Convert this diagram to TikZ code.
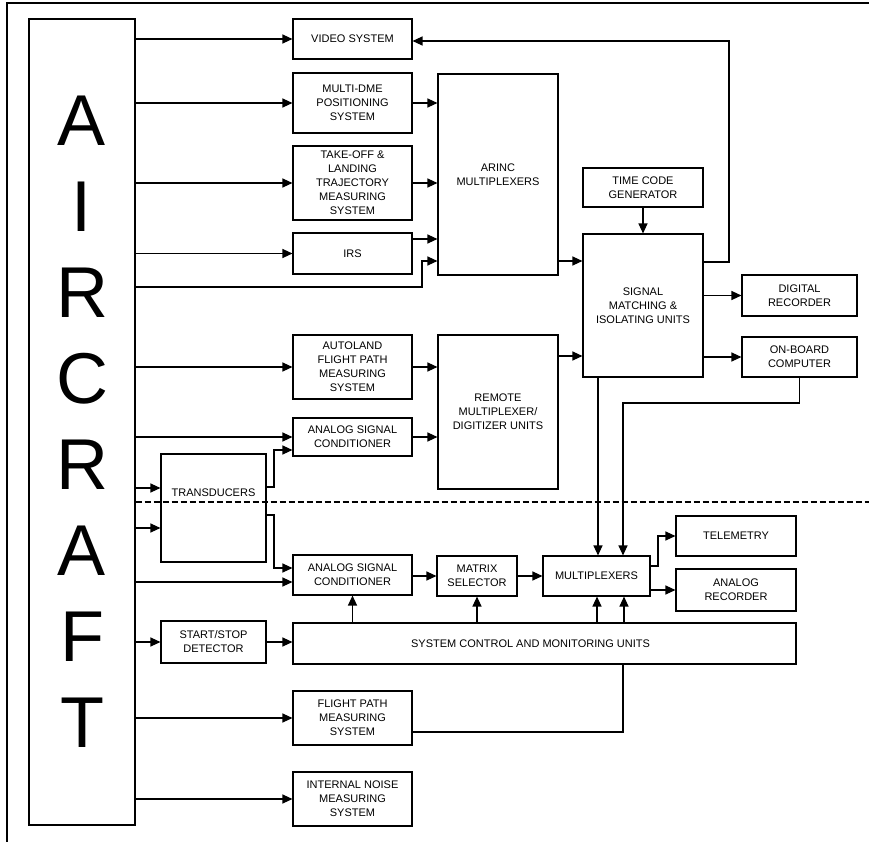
\documentclass[tikz,border=0pt]{standalone}
\usepackage{fontspec}
\setmainfont{Liberation Sans}
\usetikzlibrary{arrows.meta}
\begin{document}
\begin{tikzpicture}[x=1pt,y=-1pt,
  box/.style={draw, line width=1.1pt, inner sep=1pt, align=center, font=\fontsize{11}{14}\selectfont},
  arr/.style={line width=1.2pt, -{Triangle[length=10pt,width=9pt]}},
  ln/.style={line width=1.2pt},
  sep/.style={line width=1.1pt, dash pattern=on 6pt off 3pt}]
\useasboundingbox (0,0) rectangle (869,842);
% frame
\draw[ln] (7,842) -- (7,3) -- (869,3);
% aircraft
\node[draw, line width=1.1pt, minimum width=106pt, minimum height=806pt, align=center, inner sep=0pt,
  font=\fontsize{72}{86}\selectfont] (air) at (82,422) {A\\I\\R\\C\\R\\A\\F\\T};
% column 2
\node[box, minimum width=119pt, minimum height=40pt] (video) at (352.5,39) {VIDEO SYSTEM};
\node[box, minimum width=119pt, minimum height=60pt] (dme) at (352.5,103) {MULTI-DME\\POSITIONING\\SYSTEM};
\node[box, minimum width=119pt, minimum height=74pt] (tko) at (352.5,183) {TAKE-OFF \&\\LANDING\\TRAJECTORY\\MEASURING\\SYSTEM};
\node[box, minimum width=119pt, minimum height=41pt] (irs) at (352.5,253.5) {IRS};
\node[box, minimum width=119pt, minimum height=64pt] (auto) at (352.5,367) {AUTOLAND\\FLIGHT PATH\\MEASURING\\SYSTEM};
\node[box, minimum width=119pt, minimum height=38pt] (asca) at (352.5,437) {ANALOG SIGNAL\\CONDITIONER};
\node[box, minimum width=119pt, minimum height=40pt] (ascb) at (352.5,575) {ANALOG SIGNAL\\CONDITIONER};
\node[box, minimum width=119pt, minimum height=54pt] (fpms) at (352.5,718) {FLIGHT PATH\\MEASURING\\SYSTEM};
\node[box, minimum width=119pt, minimum height=54pt] (inm) at (352.5,799) {INTERNAL NOISE\\MEASURING\\SYSTEM};
% transducers, start/stop
\node[box, minimum width=105pt, minimum height=108pt,
  label={[anchor=center, yshift=-39pt, font=\fontsize{11}{14}\selectfont]north:TRANSDUCERS}] (trans) at (213.5,508) {};
\node[box, minimum width=105pt, minimum height=42pt] (ss) at (213.5,642) {START/STOP\\DETECTOR};
% column 3
\node[box, minimum width=120pt, minimum height=201pt] (arinc) at (498,174.5) {ARINC\\MULTIPLEXERS};
\node[box, minimum width=120pt, minimum height=154pt] (rmd) at (498,412) {REMOTE\\MULTIPLEXER/\\DIGITIZER UNITS};
\node[box, minimum width=80pt, minimum height=40pt] (mat) at (477,576) {MATRIX\\SELECTOR};
\node[box, minimum width=107pt, minimum height=40pt] (mux) at (596.5,576) {MULTIPLEXERS};
% column 4
\node[box, minimum width=120pt, minimum height=39pt] (tcg) at (643,187.5) {TIME CODE\\GENERATOR};
\node[box, minimum width=120pt, minimum height=143pt] (smi) at (643,305.5) {SIGNAL\\MATCHING \&\\ISOLATING UNITS};
% column 5
\node[box, minimum width=115pt, minimum height=41pt] (dig) at (799.5,295.5) {DIGITAL\\RECORDER};
\node[box, minimum width=115pt, minimum height=40pt] (obc) at (799.5,357) {ON-BOARD\\COMPUTER};
\node[box, minimum width=120pt, minimum height=40pt] (tel) at (736,536) {TELEMETRY};
\node[box, minimum width=120pt, minimum height=42pt] (arec) at (736,590) {ANALOG\\RECORDER};
% system control
\node[box, minimum width=503pt, minimum height=41pt] (scmu) at (544.5,643.5) {SYSTEM CONTROL AND MONITORING UNITS\hspace{28pt}};
% separator
\draw[sep] (air.east |- 0,502) -- (869,502);
% aircraft outputs
\draw[arr] (air.east |- video) -- (video);
\draw[arr] (air.east |- dme) -- (dme);
\draw[arr] (air.east |- tko) -- (tko);
\draw[arr] (air.east |- irs) -- (irs);
\draw[arr] (air.east |- 0,287) -| (422,261) -- (arinc.west |- 0,261);
\draw[arr] (air.east |- auto) -- (auto);
\draw[arr] (air.east |- asca) -- (asca);
\draw[arr] (air.east |- 0,488) -- (trans.west |- 0,488);
\draw[arr] (air.east |- 0,528) -- (trans.west |- 0,528);
\draw[arr] (air.east |- 0,582) -- (ascb.west |- 0,582);
\draw[arr] (air.east |- ss) -- (ss);
\draw[arr] (air.east |- fpms) -- (fpms);
\draw[arr] (air.east |- inm) -- (inm);
% into ARINC
\draw[arr] (dme) -- (arinc.west |- dme);
\draw[arr] (tko) -- (arinc.west |- tko);
\draw[arr] (irs.east |- 0,239) -- (arinc.west |- 0,239);
% into remote
\draw[arr] (auto) -- (rmd.west |- auto);
\draw[arr] (asca) -- (rmd.west |- asca);
% transducers
\draw[arr] (trans.east |- 0,487) -| (274,450) -- (asca.west |- 0,450);
\draw[arr] (trans.east |- 0,515) -| (274,568) -- (ascb.west |- 0,568);
% into signal matching
\draw[arr] (arinc.east |- 0,261) -- (smi.west |- 0,261);
\draw[arr] (rmd.east |- 0,356) -- (smi.west |- 0,356);
\draw[arr] (tcg) -- (smi);
% from signal matching
\draw[arr] (smi.east |- 0,262) -| (729,41) -- (video.east |- 0,41);
\draw[arr] (smi.east |- dig) -- (dig);
\draw[arr] (smi.east |- obc) -- (obc);
\draw[arr] (smi.south -| 598,0) -- (mux.north -| 598,0);
\draw[arr] (obc.south) |- (623,403) -- (mux.north -| 623,0);
% lower chain
\draw[arr] (ascb.east |- mat) -- (mat);
\draw[arr] (mat) -- (mux);
\draw[arr] (mux.east |- 0,566) -| (658,536) -- (tel.west);
\draw[arr] (mux.east |- 0,590) -- (arec.west |- 0,590);
% system control
\draw[arr] (ss) -- (scmu.west |- ss);
\draw[arr] (scmu.north -| ascb) -- (ascb.south);
\draw[arr] (scmu.north -| mat) -- (mat.south);
\draw[arr] (scmu.north -| 597,0) -- (mux.south -| 597,0);
\draw[arr] (scmu.north -| 624,0) -- (mux.south -| 624,0);
\draw[ln] (fpms.east |- 0,732) -| (scmu.south -| 623,0);
\end{tikzpicture}
\end{document}
